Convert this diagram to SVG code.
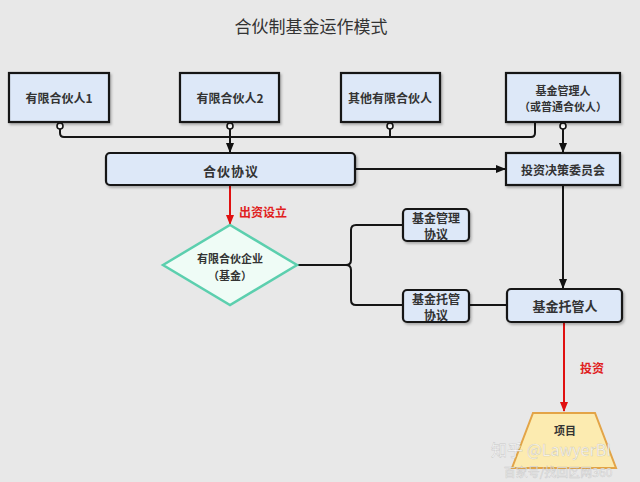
<svg xmlns="http://www.w3.org/2000/svg" width="640" height="482" viewBox="0 0 640 482">
<defs>
<marker id="ab" viewBox="0 0 10 10" refX="9" refY="5" markerWidth="5" markerHeight="5" orient="auto-start-reverse"><path d="M0,1 L10,5 L0,9 z" fill="#111"/></marker>
<marker id="ar" viewBox="0 0 10 10" refX="9" refY="5" markerWidth="5" markerHeight="5" orient="auto-start-reverse"><path d="M0,1 L10,5 L0,9 z" fill="#e01010"/></marker>
<filter id="sh" x="-10%" y="-10%" width="130%" height="140%"><feDropShadow dx="1.5" dy="2" stdDeviation="1" flood-color="#000" flood-opacity="0.25"/></filter>
</defs>
<style>
.bx{fill:#dde8f8;stroke:#151515;stroke-width:2.2;filter:url(#sh)}
.t{font-family:"Noto Sans CJK SC","Noto Sans",sans-serif;font-weight:bold;fill:#333;text-anchor:middle;dominant-baseline:central}
.ln{fill:none;stroke:#151515;stroke-width:2}
.red{fill:none;stroke:#e01010;stroke-width:2}
.circ{fill:#fff;stroke:#151515;stroke-width:1.6}
.wm{font-family:"Noto Sans CJK SC","Noto Sans",sans-serif;fill:#fff;fill-opacity:0.85;stroke:#888;stroke-opacity:0.35;stroke-width:0.6;text-anchor:middle;dominant-baseline:central}
</style>
<rect width="640" height="482" fill="#e8e8e8"/>
<text x="311" y="25" class="t" style="font-size:17px;font-weight:normal;fill:#333">合伙制基金运作模式</text>

<g id="connectors">
<path class="ln" d="M60,129 V133 Q60,137 64,137 H531 Q535,137 535,133 V122"/>
<path class="ln" d="M230,129 V152" marker-end="url(#ab)"/>
<path class="ln" d="M390,129 V137"/>
<path class="ln" d="M563,129 V152" marker-end="url(#ab)"/>
<circle class="circ" cx="60" cy="126" r="3"/>
<circle class="circ" cx="230" cy="126" r="3"/>
<circle class="circ" cx="390" cy="126" r="3"/>
<circle class="circ" cx="563" cy="126" r="3"/>
<path class="ln" d="M355,169 H505" marker-end="url(#ab)"/>
<path class="ln" d="M563,185 V288" marker-end="url(#ab)"/>
<path class="red" d="M230,186 V224" marker-end="url(#ar)"/>
<text x="263" y="211" class="t" style="font-size:12px;fill:#e02020">出资设立</text>
<path class="ln" d="M297,265 H346 Q351,265 351,260 V230 Q351,225 356,225 H403"/>
<path class="ln" d="M346,265 Q351,265 351,270 V300 Q351,305 356,305 H403"/>
<path class="ln" d="M469,305 H507"/>
<path class="red" d="M564,322 V411" marker-end="url(#ar)"/>
<text x="592" y="367" class="t" style="font-size:12px;fill:#e02020">投资</text>
</g>

<g id="lp1"><rect class="bx" x="9" y="73" width="100" height="49"/><text x="59" y="97" class="t" style="font-size:12px">有限合伙人1</text></g>
<g id="lp2"><rect class="bx" x="180" y="73" width="99" height="49"/><text x="230" y="97" class="t" style="font-size:12px">有限合伙人2</text></g>
<g id="lp3"><rect class="bx" x="341" y="73" width="99" height="49"/><text x="390" y="97" class="t" style="font-size:12px">其他有限合伙人</text></g>
<g id="gp"><rect class="bx" x="506" y="73" width="114" height="49"/><text x="563" y="90" class="t" style="font-size:11px">基金管理人</text><text x="563" y="106" class="t" style="font-size:11px">（或普通合伙人）</text></g>
<g id="agreement"><rect class="bx" x="106" y="153" width="249" height="32" rx="4"/><text x="231" y="170" class="t" style="font-size:13px;letter-spacing:1px">合伙协议</text></g>
<g id="committee"><rect class="bx" x="506" y="153" width="114" height="32"/><text x="563" y="169" class="t" style="font-size:12px">投资决策委员会</text></g>
<g id="fund"><path d="M163,265 L230,225 L297,265 L230,305 Z" fill="#effcf6" stroke="#5ccfae" stroke-width="2.5"/><text x="230" y="258" class="t" style="font-size:11px">有限合伙企业</text><text x="230" y="275" class="t" style="font-size:11px">（基金）</text></g>
<g id="mgmt"><rect class="bx" x="403" y="209" width="66" height="32" rx="4"/><text x="436" y="217" class="t" style="font-size:12px">基金管理</text><text x="436" y="233" class="t" style="font-size:12px">协议</text></g>
<g id="custagr"><rect class="bx" x="403" y="290" width="66" height="32" rx="4"/><text x="436" y="298" class="t" style="font-size:12px">基金托管</text><text x="436" y="314" class="t" style="font-size:12px">协议</text></g>
<g id="custodian"><rect class="bx" x="507" y="289" width="115" height="33" rx="4"/><text x="565" y="305" class="t" style="font-size:13px">基金托管人</text></g>
<g id="project"><path d="M533,413 L595,413 L616,468 L512,468 Z" fill="#fcebb0" stroke="#e3a447" stroke-width="2"/><text x="565" y="430" class="t" style="font-size:11px">项目</text></g>

<text x="551" y="449" class="wm" style="font-size:16px">知乎 @LawyerBI</text>
<text x="558" y="471" class="wm" style="font-size:12px">百家号/找回区网360</text>
</svg>
